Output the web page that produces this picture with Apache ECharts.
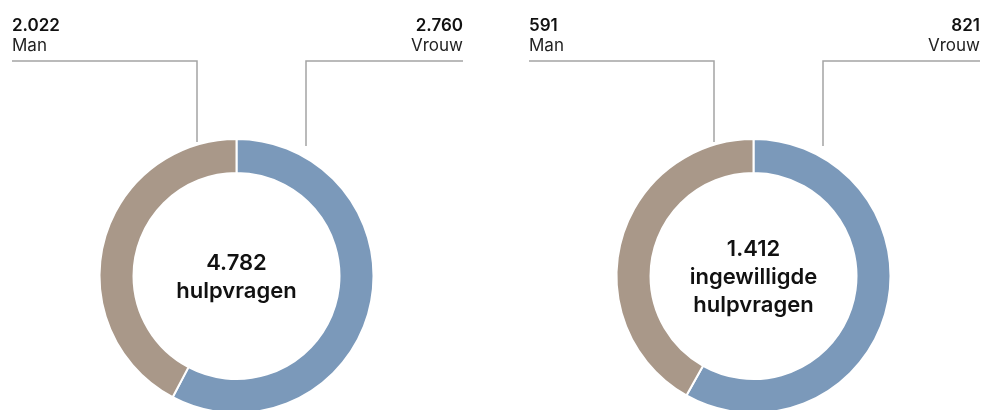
<!DOCTYPE html>
<html>
<head>
<meta charset="utf-8">
<script src="https://cdn.jsdelivr.net/npm/echarts@6/dist/echarts.min.js"></script>
<style>
html,body{margin:0;padding:0;background:#fff;}
#c{width:982px;height:410px;}
</style>
</head>
<body>
<div id="c"></div>
<script>
// Data
const categories = ['Vrouw', 'Man'];
const hulpvragen = [2760, 2022];
const ingewilligd = [821, 591];
const centerTitles = ['hulpvragen', 'ingewilligde\nhulpvragen'];

const colors = ['#7b99ba', '#a99889'];
const FONT = 'Inter';

function fmt(n) {
  return String(n).replace(/\B(?=(\d{3})+(?!\d))/g, '.');
}

const chart = echarts.init(document.getElementById('c'), null, {renderer: 'canvas'});

const centers = [[236.5, 276], [753.5, 276]];
const R = [103, 137];

function makeSeries(values, idx) {
  const c = centers[idx];
  return {
    type: 'pie',
    center: c,
    radius: R,
    startAngle: 90,
    clockwise: true,
    avoidLabelOverlap: false,
    silent: true,
    itemStyle: {borderColor: '#fff', borderWidth: 2},
    data: categories.map((name, i) => ({
      name, value: values[i], itemStyle: {color: colors[i]}
    })),
    label: {
      show: true,
      position: 'outside',
      formatter: p => '{v|' + fmt(p.value) + '}\n{n|' + p.name + '}',
      rich: {
        v: {fontFamily: FONT, fontSize: 17, fontWeight: 600, color: '#111', lineHeight: 20},
        n: {fontFamily: FONT, fontSize: 17, fontWeight: 400, color: '#222', lineHeight: 20}
      }
    },
    labelLine: {
      show: true,
      lineStyle: {color: '#a4a4a4', width: 1.5}
    },
    labelLayout: function (params) {
      const isMan = params.dataIndex === 1;
      const lineY = 61;
      if (isMan) {
        const vx = c[0] - 39.5;
        return {
          x: c[0] - 224.5, y: 16, align: 'left', verticalAlign: 'top',
          labelLinePoints: [[vx, 142], [vx, lineY], [c[0] - 224.5, lineY]]
        };
      } else {
        const vx = c[0] + 69.5;
        return {
          x: c[0] + 226.5, y: 16, align: 'right', verticalAlign: 'top',
          labelLinePoints: [[vx, 146], [vx, lineY], [c[0] + 226.5, lineY]]
        };
      }
    }
  };
}

const totals = [hulpvragen, ingewilligd].map(a => a.reduce((s, v) => s + v, 0));

chart.setOption({
  animation: false,
  series: [makeSeries(hulpvragen, 0), makeSeries(ingewilligd, 1)],
  graphic: totals.map((t, i) => ({
    type: 'text',
    x: centers[i][0],
    y: centers[i][1] + 1,
    silent: true,
    style: {
      text: fmt(t) + '\n' + centerTitles[i],
      fontFamily: FONT,
      fontSize: 22,
      fontWeight: 600,
      lineHeight: 28,
      fill: '#111',
      align: 'center',
      verticalAlign: 'middle'
    }
  }))
});
</script>
</body>
</html>
